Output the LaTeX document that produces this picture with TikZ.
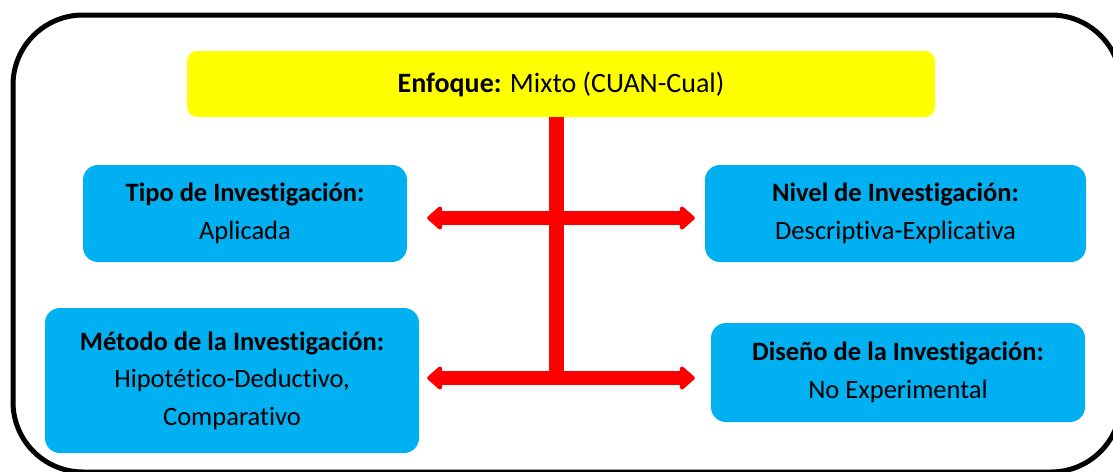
\documentclass[tikz,border=0pt]{standalone}
\usepackage{fontspec}
\setmainfont{Carlito}[Ligatures=NoCommon]
\usetikzlibrary{arrows.meta}
\definecolor{boxblue}{HTML}{00B0F0}
\definecolor{topyellow}{HTML}{FFFF00}
\definecolor{arrowred}{HTML}{FF0000}
\tikzset{
  infobox/.style={fill=boxblue,rounded corners=15pt,inner sep=0pt,align=center,
    font=\fontsize{26.5}{37.5}\selectfont},
  topbox/.style={fill=topyellow,rounded corners=10pt,inner sep=0pt,
    font=\fontsize{28}{32}\selectfont},
  redarrow/.style={arrowred,line width=14pt,
    {Triangle[length=16pt,width=27pt,round]}-{Triangle[length=16pt,width=27pt,round]}}
}
\begin{document}
\begin{tikzpicture}[x=1pt,y=-1pt]
          \useasboundingbox (0,0) rectangle (1113,471);
          \draw[line width=5pt,rounded corners=70pt] (13,15) rectangle (1121,472);
          \node[topbox,minimum width=748pt,minimum height=66pt] (enfoque) at (561,84) {\textbf{Enfoque:} Mixto (CUAN-Cual)};
          \node[infobox,minimum width=324pt,minimum height=97pt] (tipo) at (245,213.5) {\textbf{Tipo de Investigación:}\\Aplicada};
          \node[infobox,minimum width=381pt,minimum height=97pt] (nivel) at (895.5,213.5) {\textbf{Nivel de Investigación:}\\Descriptiva-Explicativa};
          \node[infobox,minimum width=374pt,minimum height=145pt] (metodo) at (232,380.5) {\textbf{Método de la Investigación:}\\Hipotético-Deductivo,\\Comparativo};
          \node[infobox,minimum width=374pt,minimum height=99pt] (diseno) at (898,372.5) {\textbf{Diseño de la Investigación:}\\No Experimental};
          \coordinate (cruce) at ([xshift=-4.5pt]enfoque.south |- 0,378);
          \draw[arrowred,line width=15pt] ([xshift=-4.5pt]enfoque.south) -- (cruce);
          \draw[redarrow] ([shift={(20,4.5)}]tipo.east) -- ([shift={(-10,4.5)}]nivel.west);
          \draw[redarrow] ([shift={(8,-2.5)}]metodo.east) -- ([shift={(-16,5.5)}]diseno.west);
\end{tikzpicture}
\end{document}
